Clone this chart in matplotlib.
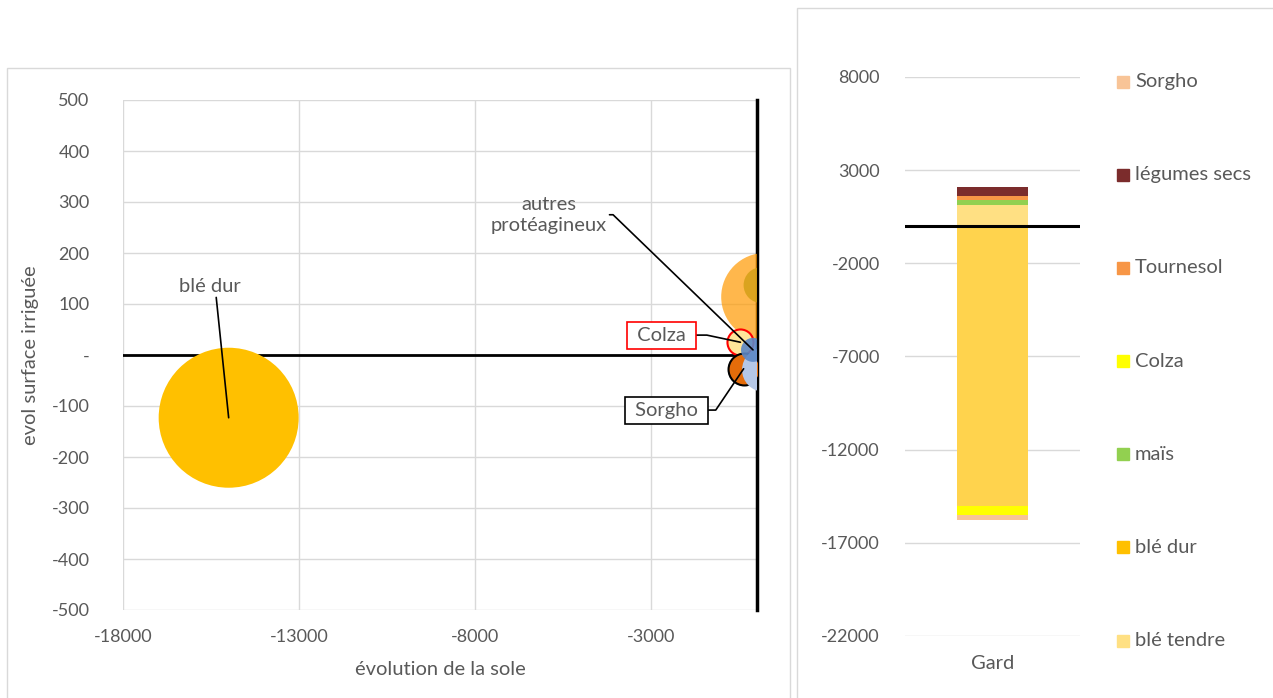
import matplotlib.pyplot as plt
import matplotlib.transforms as mtransforms
from matplotlib.lines import Line2D
from matplotlib.patches import Rectangle

plt.rcParams['font.family'] = ['Lato', 'DejaVu Sans']
TXT = '#595959'
GRID = '#D9D9D9'
FS_TXT = 14.5
FS_NUM = 13

# --- bubble chart : évolution de la sole vs évolution de la surface irriguée ---
cultures = ["blé dur", "maïs", "Tournesol", "Colza", "Sorgho", "soja", "autres protéagineux"]
evol_sole = [-15000, 230, 130, -470, -380, 200, -113]
evol_irrig = [-123, 114, 137, 25, -27, -29, 10]
surface = [15000, 5900, 990, 520, 780, 1480, 440]

x_ticks = [-18000, -13000, -8000, -3000]
x_ticklabels = ["-18000", "-13000", "-8000", "-3000"]
y_ticks = [-500, -400, -300, -200, -100, 0, 100, 200, 300, 400, 500]
y_ticklabels = ["-500", "-400", "-300", "-200", "-100", "-", "100", "200", "300", "400", "500"]

# --- stacked bar : Gard ---
departement = ["Gard"]
series = ["blé tendre", "blé dur", "maïs", "Colza", "Tournesol", "légumes secs", "Sorgho"]
valeurs = [1150, -15000, 230, -480, 250, 480, -320]
bar_ticks = [-22000, -17000, -12000, -7000, -2000, 3000, 8000]

bubble_colors = ["#FFC000", "#FF9900", "#D4A017", "#FFE699", "#E46C0A", "#B4C7E7", "#5B87C5"]
bubble_alpha = [1.0, 0.7, 0.85, 1.0, 1.0, 1.0, 0.9]
bubble_edges = ["none", "none", "none", "red", "black", "none", "none"]
bar_colors = ["#FFE083", "#FFD34D", "#92D050", "#FFFF00", "#F79646", "#7B2C2C", "#F8C497"]
legend_colors = ["#FFE083", "#FFC000", "#92D050", "#FFFF00", "#F79646", "#7B2C2C", "#F8C497"]

W, H = 1273, 698
fig = plt.figure(figsize=(W / 100, H / 100), dpi=100)

# chart frames
fig.add_artist(Rectangle((7 / W, -0.01), 783 / W, 1 - 68 / H + 0.01, transform=fig.transFigure,
                         fill=False, edgecolor=GRID, lw=1))
fig.add_artist(Rectangle((797 / W, -0.01), 480 / W, 1 - 8 / H + 0.01, transform=fig.transFigure,
                         fill=False, edgecolor=GRID, lw=1))

# ---------------- bubble chart ----------------
ax1 = fig.add_axes([123 / W, 1 - 610 / H, 634 / W, 510 / H])
ax1.set_xlim(-18000, 0)
ax1.set_ylim(-500, 500)
ax1.set_xticks(x_ticks)
ax1.set_xticklabels(x_ticklabels)
ax1.set_yticks(y_ticks)
ax1.set_yticklabels(y_ticklabels)
ax1.grid(color=GRID, lw=1)
ax1.set_axisbelow(True)
for s in ax1.spines.values():
    s.set_visible(False)
ax1.tick_params(length=0, labelcolor=TXT, labelsize=FS_NUM)
ax1.tick_params(axis='y', pad=24)
ax1.tick_params(axis='x', pad=14)
ax1.set_xlabel("évolution de la sole", color=TXT, fontsize=FS_TXT, labelpad=11)
ax1.set_ylabel("evol surface irriguée", color=TXT, fontsize=FS_TXT, labelpad=9)

ax1.axhline(0, color='black', lw=2, zorder=2)
ax1.axvline(0, color='black', lw=2.5, zorder=2, clip_on=False)

bubble_scale = (1.44 * 70) ** 2 / 15000
for i in range(len(cultures)):
    ax1.scatter(evol_sole[i], evol_irrig[i], s=surface[i] * bubble_scale, color=bubble_colors[i],
                alpha=bubble_alpha[i], edgecolors=bubble_edges[i], linewidths=1.5, zorder=3 + i * 0.1)

line_kw = dict(arrowstyle='-', color='black', lw=1.2, shrinkA=0, shrinkB=0)
ax1.annotate("blé dur", xy=(evol_sole[0], evol_irrig[0]), xytext=(-15537, 135),
             ha='center', va='center', fontsize=FS_TXT, color=TXT, zorder=6,
             arrowprops=dict(relpos=(0.6, 0), connectionstyle='arc3', **line_kw))
ax1.annotate("autres\nprotéagineux", xy=(evol_sole[6], evol_irrig[6]), xytext=(-5915, 275),
             ha='center', va='center', fontsize=FS_TXT, color=TXT, zorder=6, linespacing=1.25,
             arrowprops=dict(relpos=(1, 0.5), connectionstyle='angle,angleA=0,angleB=-44,rad=0', **line_kw))
ax1.annotate(" Colza ", xy=(evol_sole[3], evol_irrig[3]), xytext=(-2717, 39),
             ha='center', va='center', fontsize=FS_TXT, color=TXT, zorder=6,
             bbox=dict(boxstyle='square,pad=0.25', fc='white', ec='red', lw=1.2),
             arrowprops=dict(relpos=(1, 0.5), connectionstyle='angle,angleA=0,angleB=-12,rad=0', **line_kw))
ax1.annotate(" Sorgho ", xy=(evol_sole[4], evol_irrig[4]), xytext=(-2575, -108),
             ha='center', va='center', fontsize=FS_TXT, color=TXT, zorder=6,
             bbox=dict(boxstyle='square,pad=0.25', fc='white', ec='black', lw=1.2),
             arrowprops=dict(relpos=(1, 0.5), connectionstyle='angle,angleA=0,angleB=56,rad=0', **line_kw))

# ---------------- stacked bar ----------------
ax2 = fig.add_axes([905 / W, 1 - 636 / H, 175 / W, 559 / H])
ax2.set_xlim(-0.5, 0.5)
ax2.set_ylim(-22000, 8000)
ax2.set_yticks(bar_ticks)
ax2.set_yticklabels([str(t) for t in bar_ticks])
ax2.set_xticks([0])
ax2.set_xticklabels(departement, fontsize=FS_TXT)
ax2.grid(axis='y', color=GRID, lw=1)
ax2.set_axisbelow(True)
for s in ax2.spines.values():
    s.set_visible(False)
ax2.tick_params(length=0, labelcolor=TXT)
ax2.tick_params(axis='y', pad=18, labelsize=FS_NUM)
ax2.tick_params(axis='x', pad=14)

pos_base, neg_base = 0, 0
for name, v, c in zip(series, valeurs, bar_colors):
    if v >= 0:
        ax2.bar(0, v, bottom=pos_base, width=0.406, color=c, zorder=2)
        pos_base += v
    else:
        ax2.bar(0, v, bottom=neg_base, width=0.406, color=c, zorder=2)
        neg_base += v
ax2.axhline(0, color='black', lw=2.2, zorder=3)

# legend, one entry per gridline (reverse series order)
tr = mtransforms.blended_transform_factory(fig.transFigure, ax2.transData)
for k, i in enumerate(range(len(series) - 1, -1, -1)):
    y = bar_ticks[-1 - k] - 250
    fig.add_artist(Line2D([1123 / W], [y], marker='s', ms=8.5, color=legend_colors[i],
                          linestyle='none', transform=tr))
    fig.text(1135 / W, y, series[i], transform=tr, va='center', ha='left', fontsize=FS_TXT, color=TXT)

fig.savefig("out.png", dpi=100)
